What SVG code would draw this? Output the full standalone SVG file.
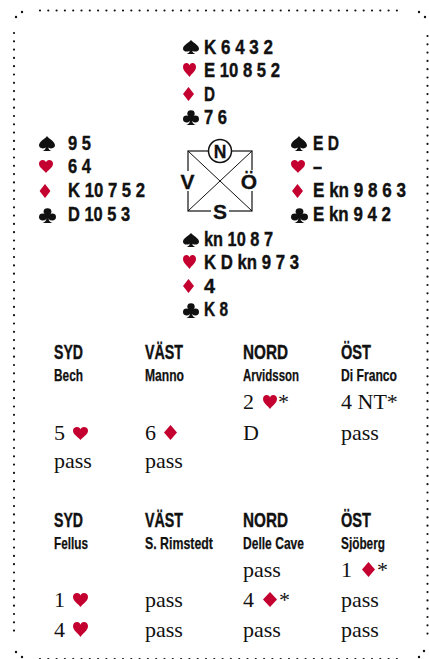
<svg xmlns="http://www.w3.org/2000/svg" xmlns:xlink="http://www.w3.org/1999/xlink" width="429" height="659" viewBox="0 0 429 659">
<style>
.h{font-family:"Liberation Sans",Arial,sans-serif;font-weight:bold;font-size:20.5px;fill:#111;stroke:#111;stroke-width:0.4}
.hd{font-family:"Liberation Sans",Arial,sans-serif;font-weight:bold;font-size:20px;fill:#111;stroke:#111;stroke-width:0.4}
.nm{font-family:"Liberation Sans",Arial,sans-serif;font-weight:bold;font-size:17px;fill:#111;stroke:#111;stroke-width:0.25}
.b{font-family:"Liberation Serif","Times New Roman",serif;font-size:22px;fill:#111}
.cp{font-family:"Liberation Sans",Arial,sans-serif;font-weight:bold;font-size:21px;fill:#111;text-anchor:middle;stroke:#111;stroke-width:0.3}
.r{fill:#c3002f}
.k{fill:#111}
.dot{fill:none;stroke:#111;stroke-width:2.2;stroke-linecap:round;stroke-dasharray:0 8.3}
</style>
<defs>
<symbol id="sp" viewBox="0 0 100 100" preserveAspectRatio="none"><path d="M50 0 C42 16 0 36 0 62 C0 80 22 90 42 76 C40 88 34 95 22 100 H78 C66 95 60 88 58 76 C78 90 100 80 100 62 C100 36 58 16 50 0Z"/></symbol>
<symbol id="he" viewBox="0 0 100 100" preserveAspectRatio="none"><path d="M50 100 C38 78 0 58 0 28 C0 10 12 0 27 0 C40 0 47 9 50 18 C53 9 60 0 73 0 C88 0 100 10 100 28 C100 58 62 78 50 100Z"/></symbol>
<symbol id="di" viewBox="0 0 100 100" preserveAspectRatio="none"><path d="M50 0 L100 50 L50 100 L0 50Z"/></symbol>
<symbol id="cl" viewBox="0 0 100 100" preserveAspectRatio="none"><circle cx="50" cy="24" r="23"/><circle cx="23" cy="60" r="23"/><circle cx="77" cy="60" r="23"/><rect x="38" y="38" width="24" height="30"/><path d="M45 50 H55 L58 78 C62 90 68 96 80 100 H20 C32 96 38 90 42 78Z"/></symbol>
</defs>
<rect width="429" height="659" fill="#fff"/>

<g id="border">
<path class="dot" d="M40 10.5 H405"/>
<path class="dot" d="M14 33 V635"/>
<path class="dot" d="M427.5 36 V638"/>
<path class="dot" d="M40 659 H405"/>
<g class="k">
<circle cx="22" cy="12" r="1.2"/><circle cx="16" cy="17" r="1.2"/>
<circle cx="419" cy="12" r="1.2"/><circle cx="425" cy="17" r="1.2"/>
<circle cx="16" cy="652" r="1.2"/><circle cx="22" cy="657" r="1.2"/>
<circle cx="424" cy="651" r="1.2"/><circle cx="419" cy="657" r="1.2"/>
</g>
</g>

<g id="hand-north">
<use href="#sp" xlink:href="#sp" class="k" x="183" y="40" width="16" height="14"/>
<use href="#he" xlink:href="#he" class="r" x="183" y="63" width="13" height="14"/>
<use href="#di" xlink:href="#di" class="r" x="183" y="87" width="11" height="14"/>
<use href="#cl" xlink:href="#cl" class="k" x="183" y="110" width="16" height="15"/>
<text class="h" x="204" y="54" textLength="69" lengthAdjust="spacingAndGlyphs">K 6 4 3 2</text>
<text class="h" x="204" y="77" textLength="76" lengthAdjust="spacingAndGlyphs">E 10 8 5 2</text>
<text class="h" x="204" y="101" textLength="11" lengthAdjust="spacingAndGlyphs">D</text>
<text class="h" x="204" y="124" textLength="23" lengthAdjust="spacingAndGlyphs">7 6</text>
</g>

<g id="hand-west">
<use href="#sp" xlink:href="#sp" class="k" x="39" y="136" width="16" height="15"/>
<use href="#he" xlink:href="#he" class="r" x="39" y="160" width="14" height="13"/>
<use href="#di" xlink:href="#di" class="r" x="39.5" y="184" width="11" height="14"/>
<use href="#cl" xlink:href="#cl" class="k" x="39" y="208" width="17" height="15"/>
<text class="h" x="68" y="150" textLength="23" lengthAdjust="spacingAndGlyphs">9 5</text>
<text class="h" x="68" y="173" textLength="23" lengthAdjust="spacingAndGlyphs">6 4</text>
<text class="h" x="68" y="197" textLength="77" lengthAdjust="spacingAndGlyphs">K 10 7 5 2</text>
<text class="h" x="68" y="221" textLength="62" lengthAdjust="spacingAndGlyphs">D 10 5 3</text>
</g>

<g id="hand-east">
<use href="#sp" xlink:href="#sp" class="k" x="291" y="136" width="16" height="15"/>
<use href="#he" xlink:href="#he" class="r" x="291" y="160" width="14" height="13"/>
<use href="#di" xlink:href="#di" class="r" x="292" y="184" width="11" height="14"/>
<use href="#cl" xlink:href="#cl" class="k" x="291" y="208" width="17" height="15"/>
<text class="h" x="313" y="150" textLength="26" lengthAdjust="spacingAndGlyphs">E D</text>
<text class="h" x="313" y="173" textLength="9" lengthAdjust="spacingAndGlyphs">–</text>
<text class="h" x="313" y="197" textLength="93" lengthAdjust="spacingAndGlyphs">E kn 9 8 6 3</text>
<text class="h" x="313" y="221" textLength="78" lengthAdjust="spacingAndGlyphs">E kn 9 4 2</text>
</g>

<g id="compass">
<rect x="188" y="151" width="64" height="60" fill="none" stroke="#111" stroke-width="1.2"/>
<path d="M188 151 L252 211 M252 151 L188 211" stroke="#111" stroke-width="1"/>
<circle cx="220" cy="151" r="11.5" fill="#fff" stroke="#111" stroke-width="1.5"/>
<text class="cp" x="220" y="157.5" style="font-size:17.5px">N</text>
<rect x="180" y="171" width="15" height="20" fill="#fff"/>
<text class="cp" x="187.5" y="189">V</text>
<rect x="242" y="170" width="15" height="21" fill="#fff"/>
<text class="cp" x="249" y="189">Ö</text>
<rect x="211" y="202" width="18" height="18" fill="#fff"/>
<text class="cp" x="220" y="218.5">S</text>
</g>

<g id="hand-south">
<use href="#sp" xlink:href="#sp" class="k" x="183" y="233" width="16" height="14"/>
<use href="#he" xlink:href="#he" class="r" x="183" y="255" width="13" height="14"/>
<use href="#di" xlink:href="#di" class="r" x="183" y="279" width="11" height="14"/>
<use href="#cl" xlink:href="#cl" class="k" x="183" y="303" width="16" height="15"/>
<text class="h" x="204" y="246" textLength="69" lengthAdjust="spacingAndGlyphs">kn 10 8 7</text>
<text class="h" x="204" y="269" textLength="95" lengthAdjust="spacingAndGlyphs">K D kn 9 7 3</text>
<text class="h" x="204" y="293" textLength="11" lengthAdjust="spacingAndGlyphs">4</text>
<text class="h" x="204" y="316" textLength="24" lengthAdjust="spacingAndGlyphs">K 8</text>
</g>

<g id="auction-1">
<text class="hd" x="54" y="359" textLength="29" lengthAdjust="spacingAndGlyphs">SYD</text>
<text class="hd" x="145" y="359" textLength="38" lengthAdjust="spacingAndGlyphs">VÄST</text>
<text class="hd" x="243" y="359" textLength="45" lengthAdjust="spacingAndGlyphs">NORD</text>
<text class="hd" x="341" y="359" textLength="30" lengthAdjust="spacingAndGlyphs">ÖST</text>
<text class="nm" x="54" y="381" textLength="29" lengthAdjust="spacingAndGlyphs">Bech</text>
<text class="nm" x="145" y="381" textLength="39" lengthAdjust="spacingAndGlyphs">Manno</text>
<text class="nm" x="243" y="381" textLength="56" lengthAdjust="spacingAndGlyphs">Arvidsson</text>
<text class="nm" x="341" y="381" textLength="56" lengthAdjust="spacingAndGlyphs">Di Franco</text>
<text class="b" x="243" y="409">2</text>
<use href="#he" xlink:href="#he" class="r" x="263" y="395" width="14" height="14"/>
<text class="b" x="278" y="409">*</text>
<text class="b" x="341" y="409">4 NT*</text>
<text class="b" x="54" y="440">5</text>
<use href="#he" xlink:href="#he" class="r" x="73" y="427" width="15" height="13"/>
<text class="b" x="145" y="440">6</text>
<use href="#di" xlink:href="#di" class="r" x="164" y="425" width="13" height="15"/>
<text class="b" x="243" y="440">D</text>
<text class="b" x="341" y="440">pass</text>
<text class="b" x="54" y="468">pass</text>
<text class="b" x="145" y="468">pass</text>
</g>

<g id="auction-2">
<text class="hd" x="54" y="527" textLength="29" lengthAdjust="spacingAndGlyphs">SYD</text>
<text class="hd" x="145" y="527" textLength="38" lengthAdjust="spacingAndGlyphs">VÄST</text>
<text class="hd" x="243" y="527" textLength="45" lengthAdjust="spacingAndGlyphs">NORD</text>
<text class="hd" x="341" y="527" textLength="30" lengthAdjust="spacingAndGlyphs">ÖST</text>
<text class="nm" x="54" y="549" textLength="34" lengthAdjust="spacingAndGlyphs">Fellus</text>
<text class="nm" x="145" y="549" textLength="68" lengthAdjust="spacingAndGlyphs">S. Rimstedt</text>
<text class="nm" x="243" y="549" textLength="61" lengthAdjust="spacingAndGlyphs">Delle Cave</text>
<text class="nm" x="341" y="549" textLength="44" lengthAdjust="spacingAndGlyphs">Sjöberg</text>
<text class="b" x="243" y="577">pass</text>
<text class="b" x="341" y="577">1</text>
<use href="#di" xlink:href="#di" class="r" x="362" y="562" width="13" height="15"/>
<text class="b" x="377" y="577">*</text>
<text class="b" x="54" y="607">1</text>
<use href="#he" xlink:href="#he" class="r" x="73" y="593" width="15" height="14"/>
<text class="b" x="145" y="607">pass</text>
<text class="b" x="243" y="607">4</text>
<use href="#di" xlink:href="#di" class="r" x="263" y="592" width="14" height="15"/>
<text class="b" x="279" y="607">*</text>
<text class="b" x="341" y="607">pass</text>
<text class="b" x="54" y="637">4</text>
<use href="#he" xlink:href="#he" class="r" x="73" y="622" width="15" height="15"/>
<text class="b" x="145" y="637">pass</text>
<text class="b" x="243" y="637">pass</text>
<text class="b" x="341" y="637">pass</text>
</g>
</svg>
